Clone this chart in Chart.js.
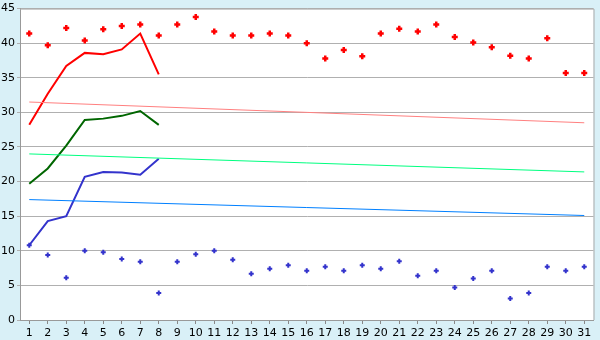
<!DOCTYPE html>
<html>
<head>
<meta charset="utf-8">
<script src="https://cdn.jsdelivr.net/npm/chart.js@4"></script>
<style>
    body{margin:0;background:#d9f0f7}
    #wrap{width:600px;height:340px}
</style>
</head>
<body>
<div id="wrap"><canvas id="chart"></canvas></div>
<script>
// values
let days = ['1','2','3','4','5','6','7','8','9','10','11','12','13','14','15','16','17','18','19','20','21','22','23','24','25','26','27','28','29','30','31']
let max_dots = [41.4,39.7,42.2,40.4,42.0,42.5,42.7,41.1,42.7,43.8,41.7,41.1,41.1,41.4,41.1,40.0,37.8,39.0,38.1,41.4,42.1,41.7,42.7,40.9,40.1,39.4,38.2,37.8,40.7,35.7,35.7]
let min_dots = [10.8,9.4,6.1,10.0,9.8,8.8,8.4,3.9,8.4,9.5,10.0,8.7,6.7,7.4,7.9,7.1,7.7,7.1,7.9,7.4,8.5,6.4,7.1,4.7,6.0,7.1,3.1,3.9,7.7,7.1,7.7]
let red_line = [28.2,32.7,36.7,38.6,38.4,39.1,41.4,35.5]
let green_line = [19.7,21.9,25.2,28.9,29.1,29.5,30.2,28.2]
let blue_line = [10.8,14.3,15.0,20.7,21.4,21.3,21.0,23.3]
// trend lines: only the two ends are given
let red_trend = [31.5,28.5]
let green_trend = [24.0,21.4]
let blue_trend = [17.4,15.1]
let y_ticks = [0,5,10,15,20,25,30,35,40,45]

function ends(pair){
    let arr = days.map(() => null)
    arr[0] = pair[0]
    arr[days.length - 1] = pair[1]
    return arr
}

const plot_bg = {
    id: 'plot_bg',
    beforeDraw(chart){
        let a = chart.chartArea, ctx = chart.ctx
        ctx.save()
        ctx.fillStyle = '#ffffff'
        ctx.fillRect(a.left, a.top, a.right - a.left, a.bottom - a.top)
        ctx.restore()
    },
    afterDatasetsDraw(chart){
        let a = chart.chartArea, ctx = chart.ctx
        ctx.save()
        ctx.strokeStyle = '#aaaaaa'
        ctx.lineWidth = 1
        ctx.beginPath()
        ctx.moveTo(a.left, a.top + 0.5)
        ctx.lineTo(a.right + 0.5, a.top + 0.5)
        ctx.lineTo(a.right + 0.5, a.bottom)
        ctx.stroke()
        ctx.restore()
    }
}

let trend = (data, color) => ({
    data: ends(data), borderColor: color, borderWidth: 1,
    pointRadius: 0, spanGaps: true, fill: false
})

new Chart(document.querySelector('#chart'), {
    type: 'line',
    data: {
        labels: days,
        datasets: [
            trend(red_trend, '#ff8080'),
            trend(green_trend, '#00ff80'),
            trend(blue_trend, '#0080ff'),
            {data: red_line, borderColor: '#ff0000', borderWidth: 2, pointRadius: 0},
            {data: green_line, borderColor: '#006600', borderWidth: 2, pointRadius: 0},
            {data: blue_line, borderColor: '#3333cc', borderWidth: 2, pointRadius: 0},
            {data: max_dots, showLine: false, pointStyle: 'cross', pointRadius: 3,
             pointBorderWidth: 2.5, borderColor: '#ff0000', backgroundColor: '#ff0000'},
            {data: min_dots, showLine: false, pointStyle: 'cross', pointRadius: 2.5,
             pointBorderWidth: 2, borderColor: '#3333cc', backgroundColor: '#3333cc'},
        ]
    },
    options: {
        responsive: true,
        maintainAspectRatio: false,
        animation: false,
        layout: {padding: {top: 5, right: 4, left: 0, bottom: 0}},
        plugins: {legend: {display: false}, tooltip: {enabled: false}},
        scales: {
            x: {
                offset: true,
                grid: {drawOnChartArea: false, drawTicks: true, tickLength: 4, color: '#888888'},
                border: {color: '#999999'},
                ticks: {color: '#000', font: {family: 'DejaVu Sans', size: 11}, padding: 3, maxRotation: 0, autoSkip: false},
                afterFit(scale){ scale.height = 20 }
            },
            y: {
                min: 0, max: 45,
                afterBuildTicks(scale){ scale.ticks = y_ticks.map(v => ({value: v})) },
                grid: {color: '#b0b0b0', tickLength: 3},
                border: {color: '#999999'},
                ticks: {color: '#000', font: {family: 'DejaVu Sans', size: 11}, padding: 2},
                afterFit(scale){ scale.width = 20 }
            }
        }
    },
    plugins: [plot_bg]
})
</script>
</body>
</html>
